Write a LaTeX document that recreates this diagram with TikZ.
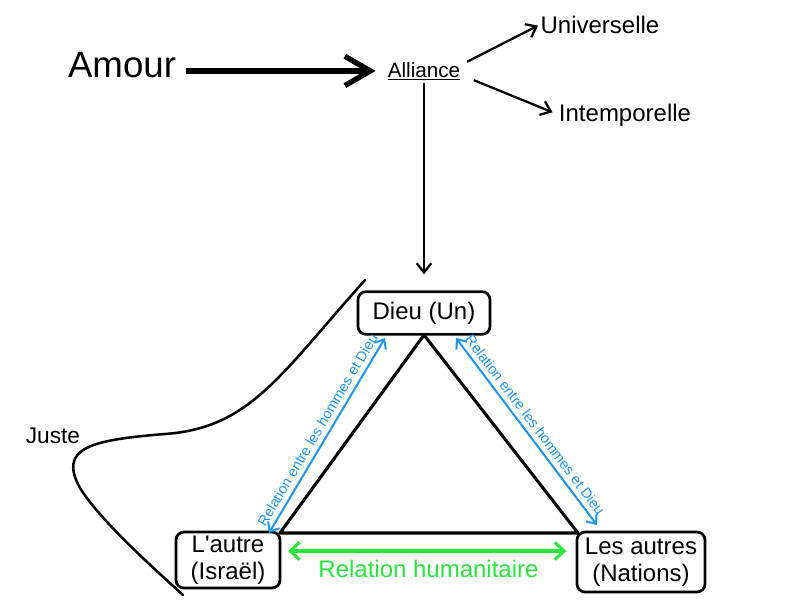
\documentclass[tikz,border=0pt]{standalone}
\usepackage{fontspec}
\setmainfont{Liberation Sans}
\usetikzlibrary{arrows.meta}

\definecolor{relblue}{RGB}{30,150,240}
\definecolor{relgreen}{RGB}{40,230,60}

\begin{document}
\begin{tikzpicture} [x=0.75pt, y=-0.75pt,
    box/.style = {draw, rounded corners=6pt, line width=2pt, fill=white, align=center, inner sep=2pt, font=\fontsize{18}{20}\selectfont},
    word/.style = {inner sep=0pt, font=\fontsize{18}{20}\selectfont},
    reltext/.style = {sloped, above, inner sep=3.5pt, text=relblue, font=\fontsize{10.8}{13}\selectfont}]

\useasboundingbox (0,0) rectangle (800,600);

\node (amour) [word, font=\fontsize{27.5}{30}\selectfont, anchor=base] at (122,77) {Amour};
\node (alliance) [word, font=\fontsize{15.5}{18}\selectfont, anchor=base] at (424,77) {\underline{Alliance}};
\node (univ) [word, anchor=base] at (600,33) {Universelle};
\node (intemp) [word, anchor=base] at (625,121) {Intemporelle};
\node (juste) [word, font=\fontsize{17}{20}\selectfont, anchor=base] at (53,443) {Juste};

\draw [line width=2.3pt, line join=round] (424,335) -- (280,533) -- (578,533) -- cycle;

\node (dieu) [box, minimum width=99pt, minimum height=32pt] at (424,313) {Dieu (Un)};
\node (autre) [box, minimum width=78pt, minimum height=42pt] at (228,560) {L\textquotesingle autre\\(Israël)};
\node (autres) [box, minimum width=96pt, minimum height=45pt] at (641,562) {Les autres\\(Nations)};

\path [-{Straight Barb[length=19pt, width=22pt]}, line width=4pt]
    (amour.east |- alliance.west) edge [shorten <=7pt, shorten >=9pt] (alliance.west);
\path [-{Straight Barb[length=7pt, width=11pt]}, line width=1.7pt]
    ([xshift=5pt]alliance.north east) edge [shorten >=2pt] (univ.west);
\path [-{Straight Barb[length=7pt, width=11pt]}, line width=1.7pt]
    ([xshift=10pt]alliance.south east) edge [shorten >=5pt] (intemp.west);
\path [-{Straight Barb[length=7pt, width=11pt]}, line width=1.7pt]
    (alliance.south) edge [shorten <=2pt, shorten >=12pt] (dieu.north);

% Relation entre les hommes et Dieu
\coordinate (l1) at (269,533);
\coordinate (l2) at (385,338);
\coordinate (r1) at (456,338);
\coordinate (r2) at (597,525);
\path [{Straight Barb[length=6pt, width=10pt]}-{Straight Barb[length=6pt, width=10pt]}, relblue, line width=1.5pt]
    (l1) edge node [reltext] {Relation entre les hommes et Dieu} (l2);
\path [{Straight Barb[length=6pt, width=10pt]}-{Straight Barb[length=6pt, width=10pt]}, relblue, line width=1.5pt]
    (r1) edge node [reltext] {Relation entre les hommes et Dieu} (r2);

% Relation humanitaire
\path [{Straight Barb[length=7pt, width=13pt]}-{Straight Barb[length=7pt, width=13pt]}, relgreen, line width=2.3pt]
    ([yshift=6.75pt]autre.east) edge [shorten <=5pt, shorten >=7pt]
    node [below=5.5pt, inner sep=0pt, text=relgreen, font=\fontsize{18}{20}\selectfont] {Relation humanitaire}
    ([yshift=8.25pt]autres.west);

% Juste
\draw [line width=1.9pt, line cap=round]
    (365,280) .. controls (280,375) and (250,428) .. (165,434)
    .. controls (90,440) and (58,448) .. (80,488)
    .. controls (100,520) and (150,565) .. (183,595);
\end{tikzpicture}
\end{document}
